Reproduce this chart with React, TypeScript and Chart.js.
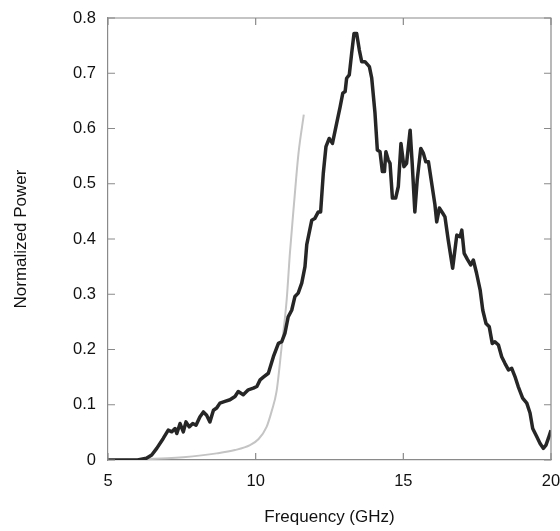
import React, { useEffect, useRef } from "react";
import { Chart, registerables } from "chart.js";

Chart.register(...registerables);

const measuredFreq = [5.0, 5.5, 6.0, 6.3, 6.48, 6.65, 6.87, 7.04, 7.16, 7.27, 7.33, 7.44, 7.55, 7.64, 7.75, 7.87, 7.98, 8.11, 8.23, 8.34, 8.45, 8.57, 8.68, 8.79, 8.96, 9.13, 9.3, 9.41, 9.58, 9.75, 9.92, 10.04, 10.15, 10.26, 10.43, 10.6, 10.77, 10.88, 10.99, 11.1, 11.22, 11.33, 11.44, 11.56, 11.67, 11.73, 11.9, 12.0, 12.12, 12.2, 12.29, 12.38, 12.49, 12.6, 12.74, 12.86, 12.95, 13.03, 13.08, 13.17, 13.25, 13.33, 13.42, 13.51, 13.59, 13.7, 13.85, 13.93, 14.04, 14.12, 14.21, 14.29, 14.36, 14.41, 14.49, 14.55, 14.63, 14.74, 14.83, 14.92, 15.02, 15.11, 15.23, 15.3, 15.39, 15.47, 15.59, 15.68, 15.76, 15.85, 15.96, 16.07, 16.13, 16.22, 16.33, 16.41, 16.52, 16.67, 16.81, 16.92, 16.98, 17.06, 17.17, 17.28, 17.37, 17.48, 17.6, 17.69, 17.8, 17.91, 18.01, 18.1, 18.22, 18.33, 18.44, 18.56, 18.67, 18.78, 18.89, 19.04, 19.18, 19.29, 19.38, 19.52, 19.63, 19.74, 19.83, 19.91, 20.0];
const measuredPower = [0.0, 0.0, 0.0, 0.003, 0.009, 0.021, 0.039, 0.054, 0.051, 0.057, 0.048, 0.066, 0.051, 0.069, 0.06, 0.066, 0.063, 0.078, 0.087, 0.081, 0.069, 0.09, 0.094, 0.103, 0.106, 0.109, 0.115, 0.124, 0.118, 0.127, 0.13, 0.133, 0.145, 0.15, 0.157, 0.187, 0.211, 0.214, 0.229, 0.259, 0.271, 0.296, 0.302, 0.32, 0.35, 0.39, 0.434, 0.437, 0.449, 0.449, 0.519, 0.567, 0.582, 0.573, 0.609, 0.639, 0.664, 0.667, 0.691, 0.697, 0.736, 0.772, 0.772, 0.742, 0.721, 0.721, 0.712, 0.691, 0.628, 0.561, 0.558, 0.522, 0.522, 0.558, 0.543, 0.537, 0.474, 0.474, 0.495, 0.573, 0.531, 0.537, 0.597, 0.537, 0.449, 0.507, 0.564, 0.555, 0.54, 0.54, 0.501, 0.462, 0.431, 0.456, 0.447, 0.44, 0.398, 0.347, 0.407, 0.404, 0.416, 0.374, 0.363, 0.353, 0.362, 0.338, 0.308, 0.271, 0.247, 0.241, 0.211, 0.214, 0.208, 0.187, 0.175, 0.163, 0.166, 0.151, 0.133, 0.112, 0.103, 0.085, 0.057, 0.042, 0.03, 0.021, 0.027, 0.039, 0.054];

const modelFreq = [5.0, 6.0, 7.0, 7.55, 8.68, 9.3, 9.81, 10.1, 10.37, 10.54, 10.71, 10.88, 11.05, 11.16, 11.3, 11.45, 11.63];
const modelPower = [0.0, 0.001, 0.003, 0.005, 0.012, 0.018, 0.027, 0.038, 0.06, 0.088, 0.125, 0.205, 0.29, 0.375, 0.465, 0.555, 0.625];

const xTicks = [5, 10, 15, 20];
const yTickStep = 0.1;

const AXIS_COLOR = "#8a8a8a";
const FONT = "'Liberation Sans', Arial, sans-serif";

const frameTicks = {
  id: "frameTicks",
  afterDraw(chart: any) {
    const { ctx, chartArea, scales } = chart;
    const { left, right, top, bottom } = chartArea;
    const len = 7;
    ctx.save();
    ctx.strokeStyle = AXIS_COLOR;
    ctx.lineWidth = 1.2;
    ctx.beginPath();
    ctx.moveTo(left, top);
    ctx.lineTo(right, top);
    ctx.lineTo(right, bottom);
    ctx.stroke();
    scales.x.ticks.forEach((t: any) => {
      const px = scales.x.getPixelForValue(t.value);
      ctx.beginPath();
      ctx.moveTo(px, bottom);
      ctx.lineTo(px, bottom - len);
      ctx.moveTo(px, top);
      ctx.lineTo(px, top + len);
      ctx.stroke();
    });
    scales.y.ticks.forEach((t: any) => {
      const py = scales.y.getPixelForValue(t.value);
      ctx.beginPath();
      ctx.moveTo(left, py);
      ctx.lineTo(left + len, py);
      ctx.moveTo(right, py);
      ctx.lineTo(right - len, py);
      ctx.stroke();
    });
    ctx.restore();
  },
};

export default function App() {
  const ref = useRef<HTMLCanvasElement | null>(null);
  useEffect(() => {
    if (!ref.current) return;
    const chart = new Chart(ref.current, {
      type: "line",
      data: {
        datasets: [
          {
            label: "Measured",
            data: measuredFreq.map((f, i) => ({ x: f, y: measuredPower[i] })),
            borderColor: "#262626",
            borderWidth: 3.5,
            pointRadius: 0,
            tension: 0,
            borderJoinStyle: "round",
          },
          {
            label: "Model",
            data: modelFreq.map((f, i) => ({ x: f, y: modelPower[i] })),
            borderColor: "#c4c4c4",
            borderWidth: 2,
            pointRadius: 0,
            cubicInterpolationMode: "monotone",
          },
        ],
      },
      options: {
        animation: false,
        responsive: false,
        maintainAspectRatio: false,
        layout: { padding: { left: 0, right: 9, top: 18, bottom: 0 } },
        plugins: { legend: { display: false }, tooltip: { enabled: false } },
        scales: {
          x: {
            type: "linear",
            min: 5,
            max: 20,
            afterBuildTicks: (s: any) => {
              s.ticks = xTicks.map((v) => ({ value: v }));
            },
            afterFit: (s: any) => {
              s.height = 71;
              s.paddingLeft = 0;
              s.paddingRight = 0;
            },
            grid: { drawOnChartArea: false, drawTicks: false },
            border: { display: true, color: AXIS_COLOR, width: 1.2 },
            ticks: {
              color: "#111",
              padding: 12,
              maxRotation: 0,
              font: { family: FONT, size: 16.5 },
            },
            title: {
              display: true,
              text: "Frequency (GHz)",
              color: "#111",
              font: { family: FONT, size: 17 },
              padding: { top: 0, bottom: 3 },
            },
          },
          y: {
            type: "linear",
            min: 0,
            max: 0.8,
            afterFit: (s: any) => {
              s.width = 108;
              s.paddingTop = 0;
              s.paddingBottom = 0;
            },
            grid: { drawOnChartArea: false, drawTicks: false },
            border: { display: true, color: AXIS_COLOR, width: 1.2 },
            ticks: {
              stepSize: yTickStep,
              color: "#111",
              padding: 12,
              font: { family: FONT, size: 16.5 },
              callback: (v: any) => String(Number(Number(v).toFixed(1))),
            },
            title: {
              display: true,
              text: "Normalized Power",
              color: "#111",
              font: { family: FONT, size: 17 },
              padding: { top: 11, bottom: 0 },
            },
          },
        },
      },
      plugins: [frameTicks],
    });
    return () => chart.destroy();
  }, []);
  return (
    <div style={{ position: "absolute", left: 0, top: 0, width: 560, height: 531, background: "#fff" }}>
      <canvas ref={ref} width={560} height={531} style={{ width: 560, height: 531 }} />
    </div>
  );
}
